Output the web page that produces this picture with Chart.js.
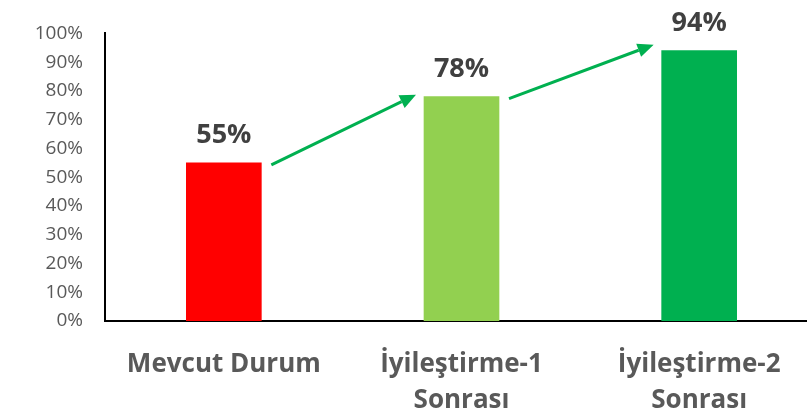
<!DOCTYPE html>
<html>
<head>
<meta charset="utf-8">
<script src="https://cdn.jsdelivr.net/npm/chart.js@4/dist/chart.umd.min.js"></script>
<style>
  html, body { margin: 0; padding: 0; background: #fff; overflow: hidden; }
  #wrap { width: 807px; height: 414px; overflow: hidden; }
  canvas { display: block; }
</style>
</head>
<body>
<div id="wrap"><canvas id="c" width="818" height="414"></canvas></div>
<script>
// Categories (multi-line labels) and their scores in percent
const categories = [
  'Mevcut Durum',
  ['İyileştirme-1', 'Sonrası'],
  ['İyileştirme-2', 'Sonrası']
];
const scores = [55, 78, 94];
const barColors = ['#FF0000', '#92D050', '#00B050'];
const yTicks = [0, 10, 20, 30, 40, 50, 60, 70, 80, 90, 100];

const FONT = '"Open Sans", "Noto Sans", sans-serif';

// Value labels above each bar
const valueLabels = {
  id: 'valueLabels',
  afterDatasetsDraw(chart) {
    const ctx = chart.ctx;
    const meta = chart.getDatasetMeta(0);
    ctx.save();
    ctx.font = 'bold 27px ' + FONT;
    ctx.fillStyle = '#404040';
    ctx.textAlign = 'center';
    ctx.textBaseline = 'alphabetic';
    meta.data.forEach((bar, i) => {
      ctx.fillText(scores[i] + '%', bar.x, bar.y - 20);
    });
    ctx.restore();
  }
};

// Green arrows linking the top of each bar to the next one
const stepArrows = {
  id: 'stepArrows',
  afterDatasetsDraw(chart) {
    const ctx = chart.ctx;
    const bars = chart.getDatasetMeta(0).data;
    ctx.save();
    ctx.strokeStyle = '#00B050';
    ctx.fillStyle = '#00B050';
    ctx.lineWidth = 3;
    for (let i = 0; i < bars.length - 1; i++) {
      const a = bars[i], b = bars[i + 1];
      const x0 = a.x + a.width / 2 + 10, y0 = a.y + 2;
      const x1 = b.x - b.width / 2 - 8, y1 = b.y - 2 - 4 * i;
      const ang = Math.atan2(y1 - y0, x1 - x0);
      const headLen = 16, headHalf = 7;
      const bx = x1 - headLen * Math.cos(ang), by = y1 - headLen * Math.sin(ang);
      ctx.beginPath();
      ctx.moveTo(x0, y0);
      ctx.lineTo(bx, by);
      ctx.stroke();
      ctx.beginPath();
      ctx.moveTo(x1, y1);
      ctx.lineTo(bx + headHalf * Math.sin(ang), by - headHalf * Math.cos(ang));
      ctx.lineTo(bx - headHalf * Math.sin(ang), by + headHalf * Math.cos(ang));
      ctx.closePath();
      ctx.fill();
    }
    ctx.restore();
  }
};

new Chart(document.getElementById('c'), {
  type: 'bar',
  data: {
    labels: categories,
    datasets: [{
      data: scores,
      backgroundColor: barColors,
      borderWidth: 0,
      barThickness: 75
    }]
  },
  options: {
    responsive: false,
    devicePixelRatio: 1,
    animation: false,
    layout: { padding: { top: 33, right: 0, left: 0, bottom: 0 } },
    plugins: { legend: { display: false }, tooltip: { enabled: false } },
    scales: {
      x: {
        grid: { display: false, drawTicks: false },
        border: { display: true, color: '#000', width: 2 },
        ticks: {
          color: '#595959',
          padding: 25,
          maxRotation: 0,
          autoSkip: false,
          font: { family: FONT, size: 26, weight: 'bold', lineHeight: 1.4 }
        },
        afterFit(scale) { scale.height = 93; }
      },
      y: {
        min: 0,
        max: 100,
        afterBuildTicks(scale) { scale.ticks = yTicks.map(v => ({ value: v })); },
        grid: { display: false, drawTicks: false },
        border: { display: true, color: '#000', width: 2 },
        ticks: {
          color: '#595959',
          padding: 22,
          font: { family: FONT, size: 19 },
          callback: v => v + '%'
        },
        afterFit(scale) { scale.width = 105; }
      }
    }
  },
  plugins: [valueLabels, stepArrows]
});
</script>
</body>
</html>
